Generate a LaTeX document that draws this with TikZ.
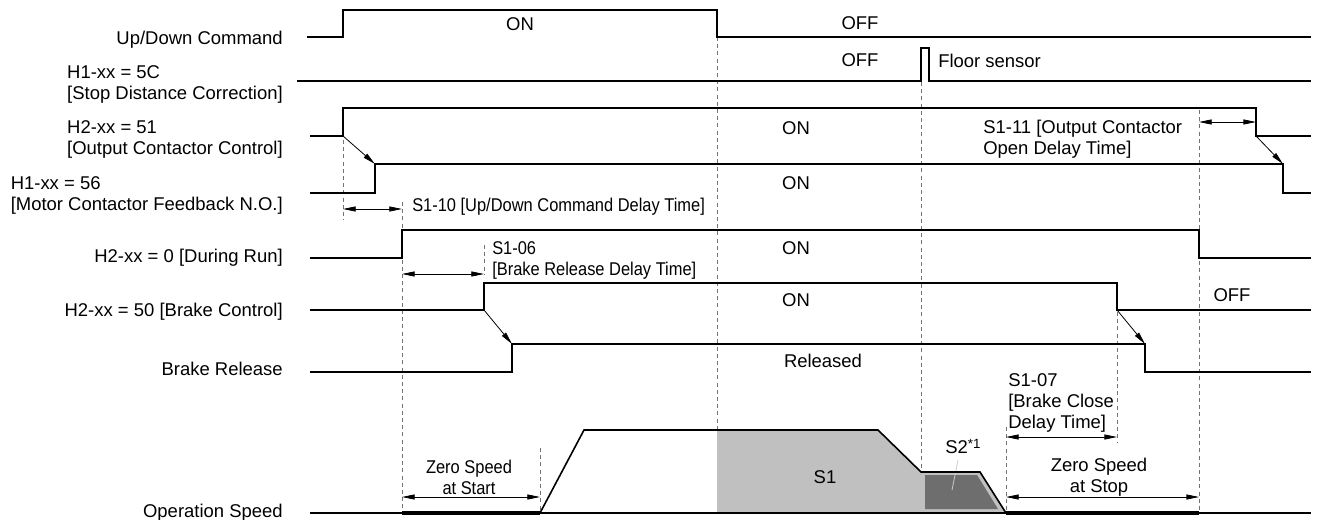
\documentclass[tikz,border=0pt]{standalone}
\usepackage{fontspec}
\setmainfont{Liberation Sans}
\newfontfamily\narrowfont[FakeStretch=0.89]{Liberation Sans}
\usetikzlibrary{arrows.meta,positioning}
\definecolor{spdlight}{HTML}{C0C0C0}
\definecolor{spddark}{HTML}{6E6E6E}

\begin{document}
\begin{tikzpicture}[
    x=0.75pt, y=-0.75pt,
    every node/.style={font=\fontsize{13.85}{15.75}\selectfont, inner sep=0pt},
    signal/.style={line width=1.2pt},
    guide/.style={black!55, line width=0.6pt, dash pattern=on 3pt off 2.4pt},
    dimline/.style={{Triangle[length=9.5pt,width=3.8pt]}-{Triangle[length=9.5pt,width=3.8pt]}, line width=0.6pt},
    arrow/.style={-{Triangle[length=9.5pt,width=3.8pt]}, line width=0.6pt},
    siglabel/.style={anchor=east, align=left},
    note/.style={anchor=west, align=left},
    narrow/.style={font=\fontsize{13.85}{15.75}\narrowfont},
]
\useasboundingbox (0,0) rectangle (1319,520);

% Signal names
\node[siglabel] (updown) at (283,40) {Up/Down Command};
\node[siglabel] (stopcorr) at (283,84) {H1-xx = 5C\\{}[Stop Distance Correction]};
\node[siglabel] (outcont) at (283,139) {H2-xx = 51\\{}[Output Contactor Control]};
\node[siglabel] (motcont) at (283,195) {H1-xx = 56\\{}[Motor Contactor Feedback N.O.]};
\node[siglabel] (duringrun) at (283,258) {H2-xx = 0 [During Run]};
\node[siglabel] (brakectl) at (283,312) {H2-xx = 50 [Brake Control]};
\node[siglabel] (brakerel) at (283,368.5) {Brake Release};
\node[siglabel] (opspeed) at (283,513) {Operation Speed};

% Guide lines
\draw[guide] (343,140) -- (343,220);
\draw[guide] (402,202) -- (402,513);
\draw[guide] (484,245) -- (484,274);
\draw[guide] (540,448) -- (540,513);
\draw[guide] (717,37) -- (717,513);
\draw[guide] (921,82) -- (921,513);
\draw[guide] (1006,427) -- (1006,513);
\draw[guide] (1117,312) -- (1117,442);
\draw[guide] (1199,110) -- (1199,513);

% Speed areas
\fill[spdlight] (717,513) -- (717,430) -- (878,430) -- (921,472) -- (980,472) -- (1006,513) -- cycle;
\fill[spddark] (925,475) -- (977,475) -- (998,509) -- (925,509) -- cycle;
\draw[black!20, line width=0.6pt] (958,460) -- (952,490);

% Waveforms
\draw[signal] (307,37) -- (343,37) -- (343,10) -- (717,10) -- (717,37) -- (1311,37);
\draw[signal] (297,81) -- (921,81) -- (921,48) -- (929,48) -- (929,81) -- (1311,81);
\draw[signal] (310,136) -- (343,136) -- (343,108) -- (1256,108) -- (1256,136) -- (1311,136);
\draw[signal] (310,193) -- (375,193) -- (375,164) -- (1283,164) -- (1283,193) -- (1311,193);
\draw[signal] (310,258) -- (402,258) -- (402,230) -- (1199,230) -- (1199,258) -- (1311,258);
\draw[signal] (310,310) -- (484,310) -- (484,283) -- (1117,283) -- (1117,310) -- (1311,310);
\draw[signal] (310,372) -- (512,372) -- (512,344) -- (1145,344) -- (1145,372) -- (1311,372);
\draw[signal] (310,513) -- (1311,513);
\draw[signal] (540,513) -- (584,430) -- (878,430) -- (921,472) -- (980,472) -- (1006,513);
\draw[line width=3pt] (402,513) -- (540,513);
\draw[line width=3pt] (1006,513) -- (1199,513);

% Edge links
\coordinate (ocon) at (343,136);
\coordinate (mcon) at (375,164);
\coordinate (ocoff) at (1256,136);
\coordinate (mcoff) at (1283,164);
\coordinate (bcon) at (484,310);
\coordinate (bron) at (512,344);
\coordinate (bcoff) at (1117,310);
\coordinate (broff) at (1145,344);
\draw[arrow] (ocon) -- (mcon);
\draw[arrow] (ocoff) -- (mcoff);
\draw[arrow] (bcon) -- (bron);
\draw[arrow] (bcoff) -- (broff);

% Delay times
\coordinate (d10a) at (343,209);
\coordinate (d10b) at (402,209);
\coordinate (d06a) at (402,274);
\coordinate (d06b) at (484,274);
\coordinate (d11a) at (1199,122);
\coordinate (d11b) at (1256,122);
\coordinate (d07a) at (1006,437);
\coordinate (d07b) at (1117,437);
\coordinate (zsa) at (402,497);
\coordinate (zsb) at (540,497);
\coordinate (zta) at (1006,497);
\coordinate (ztb) at (1199,497);
\draw[dimline] (d10a) -- (d10b);
\draw[dimline] (d06a) -- (d06b);
\draw[dimline] (d11a) -- (d11b);
\draw[dimline] (d07a) -- (d07b);
\draw[dimline] (zsa) -- (zsb);
\draw[dimline] (zta) -- (ztb);

% Texts
\node[note, narrow] (t10) at (412,207) {S1-10 [Up/Down Command Delay Time]};
\node[note, narrow] (t06) at (492,260) {S1-06\\{}[Brake Release Delay Time]};
\node[note] (t11) at (983,139) {S1-11 [Output Contactor\\Open Delay Time]};
\node[note] (t07) at (1008,403) {S1-07\\{}[Brake Close\\Delay Time]};
\node[align=center, narrow] (zstart) at (469,477) {Zero Speed\\at Start};
\node[align=center] (zstop) at (1099,477) {Zero Speed\\at Stop};
\node (udon) at (520,24) {ON};
\node (udoff) at (860,23) {OFF};
\node (scoff) at (860,60) {OFF};
\node[note] (floor) at (938,61) {Floor sensor};
\node (ocstate) at (796,128) {ON};
\node (mcstate) at (796,183) {ON};
\node (runstate) at (796,248) {ON};
\node (bcstate) at (796,300) {ON};
\node (bcoffstate) at (1232,295) {OFF};
\node (brstate) at (823,361) {Released};
\node (s1) at (825,477) {S1};
\node[anchor=base west] (s2) at (945,453) {S2\raisebox{3.4pt}{\fontsize{10}{10}\selectfont *1}};
\end{tikzpicture}
\end{document}
